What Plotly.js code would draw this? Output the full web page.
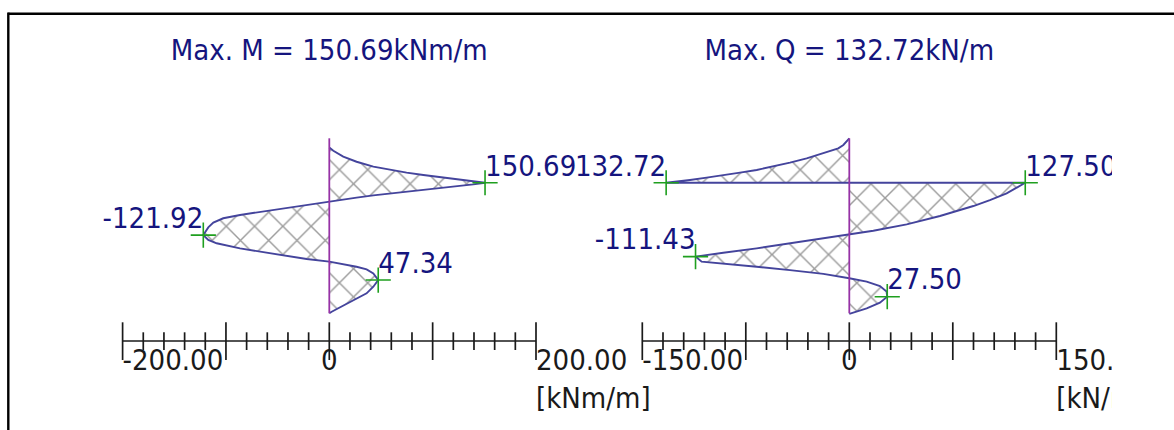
<!DOCTYPE html>
<html><head><meta charset="utf-8">
<script src="https://cdn.plot.ly/plotly-3.0.1.min.js"></script>
<style>html,body{margin:0;padding:0;background:#fff;overflow:hidden}#chart{width:1174px;height:430px}</style>
</head><body><div id="chart"></div>
<script>
// ---------------- data ----------------
const momentTitle = 'Max. M = 150.69kNm/m';
const shearTitle = 'Max. Q = 132.72kN/m';

// bending moment diagram [kNm/m] along depth [m]
const momentValues = [0, 3.9, 13.5, 26.4, 42.6, 58.7, 74.8, 91.0, 107.1, 123.2, 139.3, 150.69,
  139.3, 123.2, 107.1, 91.0, 74.8, 58.7, 42.6, 26.4, 10.3, 0,
  -21.9, -38.1, -54.2, -70.3, -86.4, -102.6, -112.2, -117.1, -120.3, -121.92,
  -117.1, -109.0, -86.4, -54.2, -21.9, 0,
  13.5, 26.4, 36.1, 42.6, 47.34, 42.6, 36.1, 26.4, 16.8, 7.1, 2.3, 0];
const momentDepths = [0.52, 0.71, 1.05, 1.34, 1.62, 1.81, 1.96, 2.10, 2.23, 2.35, 2.46, 2.54,
  2.63, 2.73, 2.82, 2.94, 3.03, 3.15, 3.26, 3.39, 3.53, 3.62,
  3.81, 3.95, 4.10, 4.23, 4.38, 4.57, 4.82, 5.09, 5.34, 5.53,
  5.81, 6.00, 6.29, 6.61, 6.90, 7.05,
  7.18, 7.34, 7.49, 7.72, 8.10, 8.48, 8.86, 9.15, 9.43, 9.72, 9.91, 10.0];

// shear force diagram [kN/m] along depth [m]
const shearValues = [0, -4.3, -8.0, -18.8, -30.9, -43.0, -55.1, -67.1, -79.2, -91.3, -103.4, -115.4, -127.5, -132.72,
  127.50, 114.0, 101.9, 89.9, 65.7, 41.6, 17.4, 0,
  -18.8, -43.0, -67.1, -91.3, -108.2, -111.43, -107.0, -91.3, -67.1, -43.0, -18.8, 0,
  12.6, 22.2, 27.0, 27.50, 22.2, 12.6, 0];
const shearDepths = [0.0, 0.38, 0.57, 0.86, 1.15, 1.39, 1.62, 1.81, 1.96, 2.12, 2.25, 2.38, 2.48, 2.54,
  2.54, 3.15, 3.53, 3.87, 4.44, 4.92, 5.28, 5.49,
  5.68, 6.00, 6.29, 6.54, 6.73, 6.76, 7.05, 7.15, 7.34, 7.53, 7.75, 8.00,
  8.19, 8.44, 8.76, 9.05, 9.39, 9.72, 10.03];

// marked extreme values
const momentMarkValues = [150.69, -121.92, 47.34];
const momentMarkDepths = [2.54, 5.53, 8.10];
const momentMarkLabels = ['150.69', '-121.92', '47.34'];
const momentMarkSides = ['top right', 'top left', 'top right'];

const shearMarkValues = [-132.72, 127.50, -111.43, 27.50];
const shearMarkDepths = [2.54, 2.54, 6.76, 9.05];
const shearMarkLabels = ['132.72', '127.50', '-111.43', '27.50'];
const shearMarkSides = ['top left', 'top right', 'top left', 'top right'];

// wall (reference line)
const wallDepths = [0, 10];

// scale bars
const momentScaleRange = [-200, 200];
const momentMajorStep = 100;
const momentMinorStep = 20;
const momentTickValues = [-200, 0, 200];
const momentTickLabels = ['-200.00', '0', '200.00<br>[kNm/m]'];
const momentTickSides = ['bottom right', 'bottom center', 'bottom right'];

const shearScaleRange = [-150, 150];
const shearMajorStep = 75;
const shearMinorStep = 15;
const shearTickValues = [-150, 0, 150];
const shearTickLabels = ['-150.00', '0', '150.00<br>[kN/m]'];
const shearTickSides = ['bottom right', 'bottom center', 'bottom right'];

// ---------------- layout geometry (pixels) ----------------
const W = 1174, H = 430;
const X0L = 329.3, SL = 1.0335;   // moment: px of zero, px per unit
const X0R = 849.3, SR = 1.38;     // shear
const Y0 = 138.3, SY = 17.5;      // depth: px of 0 m, px per m
const pxD = p => (p - Y0) / SY;
const BAR_PX = 341, MAJ_UP = 18.7, MAJ_DN = 19, MIN_UP = 8.7, MIN_DN = 9;
const LABEL_PX = 348.3, TITLE_PX = 52.5;
const LEFT_DOM = [0, 572], RIGHT_DOM = [574, 1112];

const FONT = 'DejaVu Sans Condensed, DejaVu Sans, sans-serif';
const FS = 29;
const NAVY = '#15157e', OUTLINE = '#44449c', PURPLE = '#9632a6', HATCH = '#9c9c9c',
      GREEN = '#1f9f1f', INK = '#1a1a1a';

function ticks(range, step) {
  const v = [];
  for (let t = range[0]; t <= range[1] + 1e-9; t += step) v.push(t);
  return v;
}
function tickTrace(range, major, minor, xa) {
  const xs = [], ys = [];
  ticks(range, minor).forEach(t => {
    const isMajor = Math.abs(t / major - Math.round(t / major)) < 1e-6;
    xs.push(t, t, null);
    ys.push(pxD(BAR_PX - (isMajor ? MAJ_UP : MIN_UP)), pxD(BAR_PX + (isMajor ? MAJ_DN : MIN_DN)), null);
  });
  return {x: xs, y: ys, xaxis: xa, yaxis: 'y', mode: 'lines', line: {color: INK, width: 1.7},
          hoverinfo: 'skip', cliponaxis: false, showlegend: false};
}

function diagram(xa, vals, deps, markV, markD, markL, markS, clip, scaleRange, major, minor, tv, tl, ts, title) {
  const tr = [];
  tr.push({x: vals, y: deps, xaxis: xa, yaxis: 'y', mode: 'lines', fill: 'toself',
    fillcolor: 'rgba(0,0,0,0)',
    fillpattern: {shape: 'x', fgcolor: HATCH, bgcolor: 'rgba(0,0,0,0)', size: 20, solidity: 0.14},
    line: {color: OUTLINE, width: 1.9}, cliponaxis: false, hoverinfo: 'skip', showlegend: false});
  tr.push({x: [0, 0], y: wallDepths, xaxis: xa, yaxis: 'y', mode: 'lines',
    line: {color: PURPLE, width: 1.8}, cliponaxis: false, hoverinfo: 'skip', showlegend: false});
  tr.push({x: markV, y: markD, xaxis: xa, yaxis: 'y', mode: 'markers',
    marker: {symbol: 'cross-thin', size: 18, line: {color: GREEN, width: 1.6}},
    cliponaxis: false, hoverinfo: 'skip', showlegend: false});
  tr.push({x: markV, y: markD, xaxis: xa, yaxis: 'y', mode: 'text', text: markL, textposition: markS,
    textfont: {family: FONT, size: FS, color: NAVY}, cliponaxis: clip, hoverinfo: 'skip', showlegend: false});
  tr.push({x: scaleRange, y: scaleRange.map(() => pxD(BAR_PX)), xaxis: xa, yaxis: 'y', mode: 'lines',
    line: {color: INK, width: 1.7}, cliponaxis: false, hoverinfo: 'skip', showlegend: false});
  tr.push(tickTrace(scaleRange, major, minor, xa));
  tr.push({x: tv, y: tv.map(() => pxD(LABEL_PX)), xaxis: xa, yaxis: 'y', mode: 'text', text: tl,
    textposition: ts, textfont: {family: FONT, size: FS, color: INK}, cliponaxis: clip,
    hoverinfo: 'skip', showlegend: false});
  tr.push({x: [0], y: [pxD(TITLE_PX)], xaxis: xa, yaxis: 'y', mode: 'text', text: [title],
    textposition: 'middle center', textfont: {family: FONT, size: FS, color: NAVY},
    cliponaxis: false, hoverinfo: 'skip', showlegend: false});
  return tr;
}

const data = [].concat(
  diagram('x', momentValues, momentDepths, momentMarkValues, momentMarkDepths, momentMarkLabels, momentMarkSides,
    false, momentScaleRange, momentMajorStep, momentMinorStep, momentTickValues, momentTickLabels, momentTickSides, momentTitle),
  diagram('x2', shearValues, shearDepths, shearMarkValues, shearMarkDepths, shearMarkLabels, shearMarkSides,
    true, shearScaleRange, shearMajorStep, shearMinorStep, shearTickValues, shearTickLabels, shearTickSides, shearTitle)
);

const hidden = {visible: false, showgrid: false, zeroline: false, fixedrange: true};
const layout = {
  width: W, height: H, margin: {l: 0, r: 0, t: 0, b: 0, pad: 0},
  paper_bgcolor: '#ffffff', plot_bgcolor: 'rgba(0,0,0,0)', showlegend: false,
  xaxis: Object.assign({}, hidden, {domain: [LEFT_DOM[0] / W, LEFT_DOM[1] / W], anchor: 'y',
    range: [(LEFT_DOM[0] - X0L) / SL, (LEFT_DOM[1] - X0L) / SL], autorange: false}),
  xaxis2: Object.assign({}, hidden, {domain: [RIGHT_DOM[0] / W, RIGHT_DOM[1] / W], anchor: 'y',
    range: [(RIGHT_DOM[0] - X0R) / SR, (RIGHT_DOM[1] - X0R) / SR], autorange: false}),
  yaxis: Object.assign({}, hidden, {domain: [0, 1], range: [pxD(H), pxD(0)], autorange: false}),
  shapes: [
    {type: 'line', xref: 'paper', yref: 'paper', x0: 8.3 / W, x1: 1.01, y0: 1 - 13.8 / H, y1: 1 - 13.8 / H,
      line: {color: '#000', width: 2.4}},
    {type: 'line', xref: 'paper', yref: 'paper', x0: 8.3 / W, x1: 8.3 / W, y0: 1 - 12.6 / H, y1: -0.01,
      line: {color: '#000', width: 2.4}}
  ]
};
Plotly.newPlot('chart', data, layout, {staticPlot: true, displayModeBar: false});
</script></body></html>
